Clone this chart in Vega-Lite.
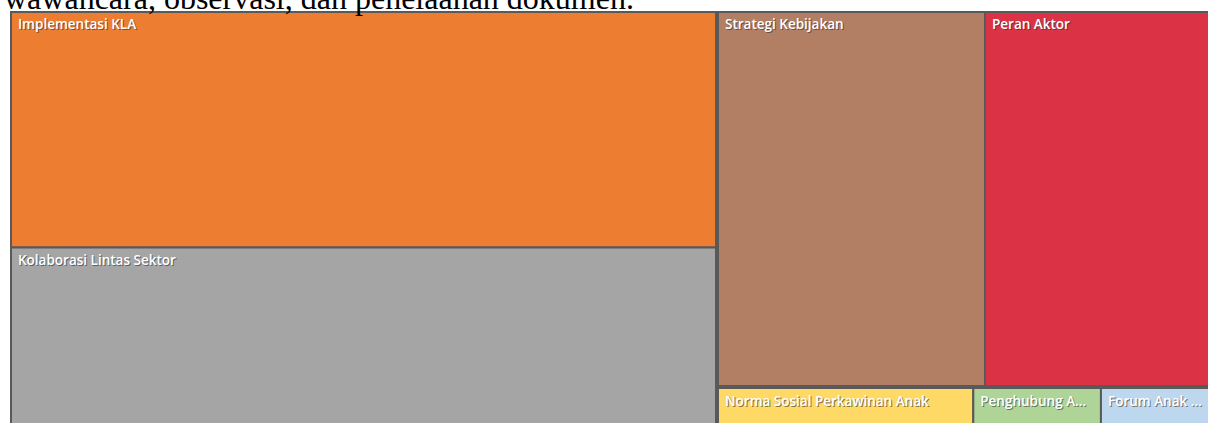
{
  "$schema": "https://vega.github.io/schema/vega-lite/v6.json",
  "padding": {"top": -17, "left": 4, "right": 0, "bottom": 0},
  "background": "white",
  "title": {
    "text": "wawancara, observasi, dan penelaahan dokumen.",
    "anchor": "start",
    "frame": "bounds",
    "font": "Liberation Serif",
    "fontSize": 32,
    "fontWeight": "normal",
    "color": "black",
    "offset": -13,
    "dx": -6,
    "dy": -8
  },
  "config": {"view": {"stroke": null}, "concat": {"spacing": 0}},
  "datasets": {
    "nodes": [
      {"name": "Implementasi KLA", "value": 33, "block": "A", "ord": 1},
      {"name": "Kolaborasi Lintas Sektor", "value": 25, "block": "A", "ord": 2},
      {"name": "Strategi Kebijakan", "value": 20, "block": "B1", "ord": 1},
      {"name": "Peran Aktor", "value": 17, "block": "B1", "ord": 2},
      {"name": "Norma Sosial Perkawinan Anak", "value": 2, "block": "B2", "ord": 1},
      {"name": "Penghubung A...", "value": 1, "block": "B2", "ord": 2},
      {"name": "Forum Anak ...", "value": 0.87, "block": "B2", "ord": 3}
    ]
  },
  "hconcat": [
    {
      "width": 705,
      "height": 414,
      "data": {"name": "nodes"},
      "transform": [
        {"filter": "datum.block === 'A'"},
        {"stack": "value", "groupby": [], "sort": [{"field": "ord", "order": "ascending"}], "as": ["s0", "s1"], "offset": "normalize"}
      ],
      "encoding": {
        "y": {"field": "s0", "type": "quantitative", "scale": {"domain": [0, 1], "reverse": true, "nice": false, "zero": false}, "axis": null}
      },
      "layer": [
        {
          "mark": {"type": "rect", "stroke": "#595959", "strokeWidth": 2},
          "encoding": {
            "y2": {"field": "s1"},
            "x": {"datum": 0, "type": "quantitative", "scale": {"domain": [0, 1], "nice": false}, "axis": null},
            "x2": {"datum": 1},
            "color": {"field": "name", "type": "nominal", "legend": null,
              "scale": {"domain": ["Implementasi KLA", "Kolaborasi Lintas Sektor", "Strategi Kebijakan", "Peran Aktor", "Norma Sosial Perkawinan Anak", "Penghubung A...", "Forum Anak ..."],
                        "range": ["#ED7D31", "#A5A5A5", "#B37F64", "#DC3246", "#FFD966", "#AED497", "#BDD7EE"]}}
          }
        },
        {
          "mark": {"type": "text", "align": "left", "baseline": "top", "dx": 8, "dy": 7, "font": "Open Sans", "fontWeight": 600, "fontSize": 13.5, "fill": "#333333", "opacity": 0.6},
          "encoding": {
            "x": {"datum": 0, "type": "quantitative"},
            "text": {"field": "name"}
          }
        },
        {
          "mark": {"type": "text", "align": "left", "baseline": "top", "dx": 7, "dy": 6, "font": "Open Sans", "fontWeight": 600, "fontSize": 13.5, "fill": "white"},
          "encoding": {
            "x": {"datum": 0, "type": "quantitative"},
            "text": {"field": "name"}
          }
        }
      ]
    },
    {
      "vconcat": [
        {
          "width": 494,
          "height": 374,
          "data": {"name": "nodes"},
          "transform": [
            {"filter": "datum.block === 'B1'"},
            {"stack": "value", "groupby": [], "sort": [{"field": "ord", "order": "ascending"}], "as": ["s0", "s1"], "offset": "normalize"}
          ],
          "encoding": {
            "x": {"field": "s0", "type": "quantitative", "scale": {"domain": [0, 1], "nice": false, "zero": false}, "axis": null}
          },
          "layer": [
            {
              "mark": {"type": "rect", "stroke": "#595959", "strokeWidth": 2},
              "encoding": {
                "x2": {"field": "s1"},
                "y": {"datum": 0, "type": "quantitative", "scale": {"domain": [0, 1], "reverse": true, "nice": false}, "axis": null},
                "y2": {"datum": 1},
                "color": {"field": "name", "type": "nominal", "legend": null,
                  "scale": {"domain": ["Implementasi KLA", "Kolaborasi Lintas Sektor", "Strategi Kebijakan", "Peran Aktor", "Norma Sosial Perkawinan Anak", "Penghubung A...", "Forum Anak ..."],
                            "range": ["#ED7D31", "#A5A5A5", "#B37F64", "#DC3246", "#FFD966", "#AED497", "#BDD7EE"]}}
              }
            },
            {
              "mark": {"type": "text", "align": "left", "baseline": "top", "dx": 8, "dy": 7, "font": "Open Sans", "fontWeight": 600, "fontSize": 13.5, "fill": "#333333", "opacity": 0.6},
              "encoding": {
                "y": {"datum": 0, "type": "quantitative"},
                "text": {"field": "name"}
              }
            },
            {
              "mark": {"type": "text", "align": "left", "baseline": "top", "dx": 7, "dy": 6, "font": "Open Sans", "fontWeight": 600, "fontSize": 13.5, "fill": "white"},
              "encoding": {
                "y": {"datum": 0, "type": "quantitative"},
                "text": {"field": "name"}
              }
            }
          ]
        },
        {
          "width": 494,
          "height": 40,
          "data": {"name": "nodes"},
          "transform": [
            {"filter": "datum.block === 'B2'"},
            {"stack": "value", "groupby": [], "sort": [{"field": "ord", "order": "ascending"}], "as": ["s0", "s1"], "offset": "normalize"}
          ],
          "encoding": {
            "x": {"field": "s0", "type": "quantitative", "scale": {"domain": [0, 1], "nice": false, "zero": false}, "axis": null}
          },
          "layer": [
            {
              "mark": {"type": "rect", "stroke": "#595959", "strokeWidth": 2},
              "encoding": {
                "x2": {"field": "s1"},
                "y": {"datum": 0, "type": "quantitative", "scale": {"domain": [0, 1], "reverse": true, "nice": false}, "axis": null},
                "y2": {"datum": 1},
                "color": {"field": "name", "type": "nominal", "legend": null,
                  "scale": {"domain": ["Implementasi KLA", "Kolaborasi Lintas Sektor", "Strategi Kebijakan", "Peran Aktor", "Norma Sosial Perkawinan Anak", "Penghubung A...", "Forum Anak ..."],
                            "range": ["#ED7D31", "#A5A5A5", "#B37F64", "#DC3246", "#FFD966", "#AED497", "#BDD7EE"]}}
              }
            },
            {
              "mark": {"type": "text", "align": "left", "baseline": "top", "dx": 8, "dy": 8, "font": "Open Sans", "fontWeight": 600, "fontSize": 13.5, "fill": "#333333", "opacity": 0.6},
              "encoding": {
                "y": {"datum": 0, "type": "quantitative"},
                "text": {"field": "name"}
              }
            },
            {
              "mark": {"type": "text", "align": "left", "baseline": "top", "dx": 7, "dy": 7, "font": "Open Sans", "fontWeight": 600, "fontSize": 13.5, "fill": "white"},
              "encoding": {
                "y": {"datum": 0, "type": "quantitative"},
                "text": {"field": "name"}
              }
            }
          ]
        }
      ]
    }
  ]
}
